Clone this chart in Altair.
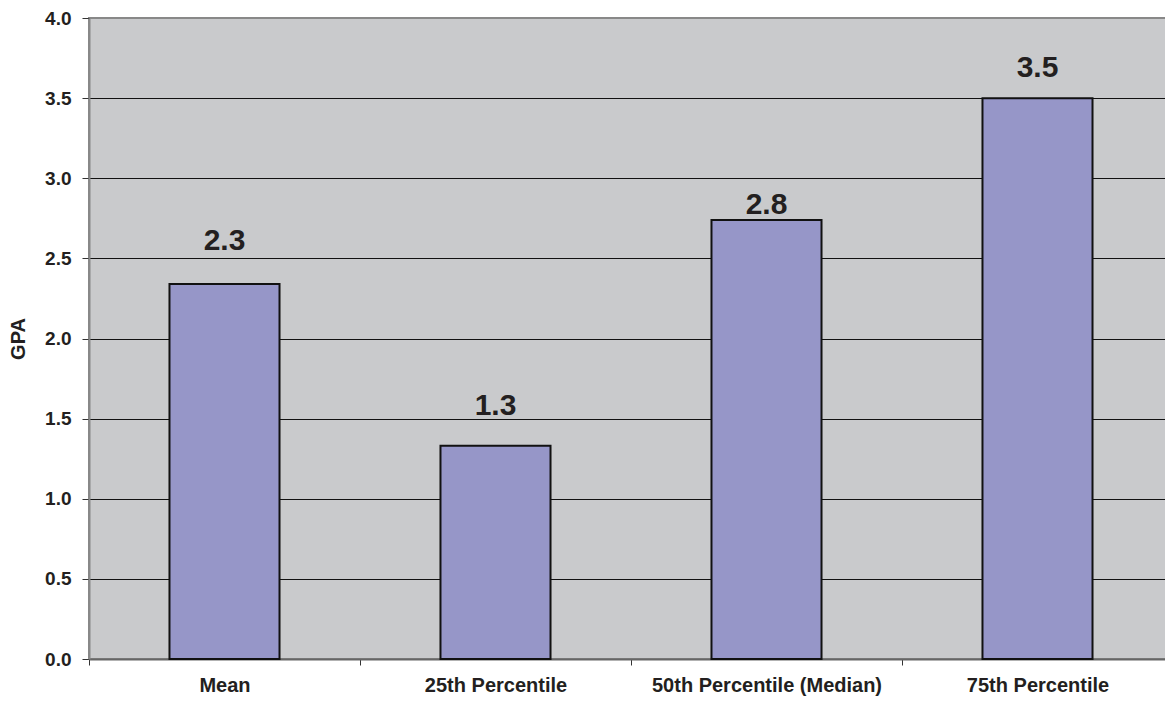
import altair as alt
import pandas as pd

categories = ["Mean", "25th Percentile", "50th Percentile (Median)", "75th Percentile"]
gpa_values = [2.34, 1.33, 2.74, 3.50]
value_labels = ["2.3", "1.3", "2.8", "3.5"]
label_positions = [2.55, 1.52, 2.78, 3.63]
y_ticks = [0.0, 0.5, 1.0, 1.5, 2.0, 2.5, 3.0, 3.5, 4.0]

df = pd.DataFrame({
    "category": categories,
    "gpa": gpa_values,
    "label": value_labels,
    "label_y": label_positions,
})

FONT = "Liberation Sans"
PAD_INNER = 0.594
STEP = 271
HALF_GAP = PAD_INNER * STEP / 2

x_axis = alt.Axis(
    labelAngle=0,
    labelFont=FONT,
    labelFontSize=20,
    labelFontWeight="bold",
    labelColor="#231f20",
    labelPadding=10,
    labelLimit=0,
    bandPosition=0,
    tickOffset=-HALF_GAP,
    labelOffset=HALF_GAP,
    tickExtra=False,
    tickSize=6,
    tickColor="#333333",
    domainColor="#666666",
    domainWidth=2,
    grid=False,
)

y_axis = alt.Axis(
    values=y_ticks,
    format=".1f",
    labelFont=FONT,
    labelFontSize=19,
    labelFontWeight="bold",
    labelColor="#231f20",
    labelPadding=11,
    tickSize=7,
    tickColor="#333333",
    domainColor="#888888",
    domainWidth=2,
    grid=True,
    gridColor={"condition": {"test": "datum.value >= 4", "value": "#888888"}, "value": "#111111"},
    gridWidth=1,
    titleFont=FONT,
    titleFontSize=20,
    titleFontWeight="bold",
    titleColor="#231f20",
    titlePadding=16,
)

x_scale = alt.Scale(paddingInner=PAD_INNER, paddingOuter=PAD_INNER / 2)
y_scale = alt.Scale(domain=[0, 4], nice=False)

bars = alt.Chart(df).mark_bar(
    fill="#9696C8", stroke="#111111", strokeWidth=2
).encode(
    x=alt.X("category:N", sort=categories, title=None, scale=x_scale, axis=x_axis),
    y=alt.Y("gpa:Q", scale=y_scale, title="GPA", axis=y_axis),
)

text = alt.Chart(df).mark_text(
    font=FONT, fontSize=30, fontWeight="bold", color="#231f20",
    baseline="alphabetic", align="center"
).encode(
    x=alt.X("category:N", sort=categories, title=None, scale=x_scale, axis=x_axis),
    y=alt.Y("label_y:Q", scale=y_scale, title="GPA", axis=y_axis),
    text="label:N",
)

chart = alt.layer(bars, text).properties(
    width=1084,
    height=641,
    autosize=alt.AutoSizeParams(type="none"),
    padding={"left": 81, "top": 10, "right": -8, "bottom": 37},
).configure_view(
    fill="#C9CACC", stroke="#888888", strokeWidth=2
)

chart.save("out.html", embed_options={"renderer": "svg", "actions": False})
